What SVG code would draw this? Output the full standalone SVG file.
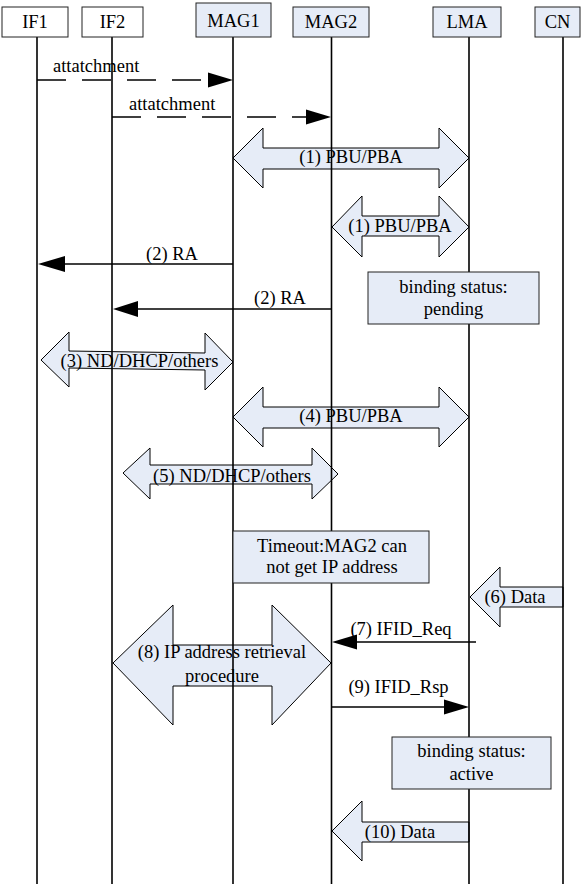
<svg xmlns="http://www.w3.org/2000/svg" width="583" height="886" viewBox="0 0 583 886">
<style>
text{font-family:"Liberation Serif","Times New Roman",serif;font-size:18.5px;fill:#000}
.c{text-anchor:middle}
.life{stroke:#000;stroke-width:1.6;fill:none}
.hdr{stroke:#222;stroke-width:1;fill:#fff}
.hdrb{stroke:#222;stroke-width:1;fill:#e6ecf7}
.blk{stroke:#000;stroke-width:1;fill:#e6ecf7}
.note{stroke:#222;stroke-width:1;fill:#e6ecf7}
.msg{stroke:#000;stroke-width:1.6;fill:none}
.dash{stroke:#000;stroke-width:1.6;fill:none;stroke-dasharray:29 16}
.head{fill:#000;stroke:none}
</style>
<g id="connectors">
<!-- block arrows -->
<path class="blk" d="M233,158 L263,128 L263,148 L439,148 L439,128 L469,158 L439,188 L439,169 L263,169 L263,188 Z"/>
<path class="blk" d="M332,227 L362,196 L362,216 L439,216 L439,196 L469,227 L439,257 L439,236 L362,236 L362,257 Z"/>
<path class="blk" d="M41,360 L69,332 L69,351 L205,353 L205,333 L233,362 L205,390 L205,370 L69,368 L69,387 Z"/>
<path class="blk" d="M233,417 L263,387 L263,407 L439,407 L439,387 L469,417 L439,447 L439,428 L263,428 L263,447 Z"/>
<path class="blk" d="M123,473 L150,448 L150,465 L312,465 L312,448 L338,474 L312,499 L312,484 L150,484 L150,499 Z"/>
<path class="blk" d="M470,597 L500,567 L500,587 L563,587 L563,607 L500,607 L500,627 Z"/>
<path class="blk" d="M113,663 L173,605 L173,645 L272,645 L272,605 L331,663 L272,725 L272,686 L173,686 L173,725 Z"/>
<path class="blk" d="M332,831 L362,801 L362,822 L469,822 L469,842 L362,842 L362,861 Z"/>
</g>
<g id="lifelines">
<line class="life" x1="37" y1="37" x2="37" y2="884"/>
<line class="life" x1="112" y1="37" x2="112" y2="884"/>
<line class="life" x1="233" y1="37" x2="233" y2="884"/>
<line class="life" x1="331.5" y1="37" x2="331.5" y2="884"/>
<line class="life" x1="469" y1="37" x2="469" y2="884"/>
<line class="life" x1="563" y1="37" x2="563" y2="884"/>
</g>
<g id="messages">
<line class="dash" x1="37" y1="80" x2="210" y2="80"/>
<polygon class="head" points="233,80 208,72.5 208,87.5"/>
<line class="dash" x1="112" y1="117" x2="309" y2="117"/>
<polygon class="head" points="331,117 306,109.5 306,124.5"/>
<line class="msg" x1="233" y1="264" x2="60" y2="264"/>
<polygon class="head" points="38,264 65,256 65,272"/>
<line class="msg" x1="331" y1="309" x2="135" y2="309"/>
<polygon class="head" points="113,309 138,301 138,317"/>
<line class="msg" x1="476" y1="642" x2="352" y2="642"/>
<polygon class="head" points="332,642 357,634.5 357,649.5"/>
<line class="msg" x1="331" y1="707" x2="448" y2="707"/>
<polygon class="head" points="469,707 444,699.5 444,714.5"/>
</g>
<g id="IF1"><rect class="hdr" x="2" y="7" width="66" height="30"/><text class="c" x="35" y="28">IF1</text></g>
<g id="IF2"><rect class="hdr" x="82" y="7" width="61" height="30"/><text class="c" x="112.5" y="28">IF2</text></g>
<g id="MAG1"><rect class="hdrb" x="196" y="3" width="75" height="34"/><text class="c" x="233.5" y="27">MAG1</text></g>
<g id="MAG2"><rect class="hdrb" x="293" y="7" width="76" height="30"/><text class="c" x="331" y="28">MAG2</text></g>
<g id="LMA"><rect class="hdrb" x="433" y="7" width="68" height="30"/><text class="c" x="467" y="28">LMA</text></g>
<g id="CN"><rect class="hdrb" x="535" y="7" width="45" height="30"/><text class="c" x="557.5" y="28">CN</text></g>
<g id="pending"><rect class="note" x="368" y="272" width="171" height="52"/><text class="c" x="453.5" y="293">binding status:</text><text class="c" x="453.5" y="315">pending</text></g>
<g id="timeout"><rect class="note" x="233" y="531" width="196" height="52"/><text class="c" x="332" y="552">Timeout:MAG2 can</text><text class="c" x="332" y="573">not get IP address</text></g>
<g id="active"><rect class="note" x="392" y="737" width="159" height="52"/><text class="c" x="471.5" y="757">binding status:</text><text class="c" x="471.5" y="780">active</text></g>
<g id="labels">
<text x="53" y="72">attatchment</text>
<text x="129" y="110">attatchment</text>
<text class="c" x="351" y="163">(1) PBU/PBA</text>
<text class="c" x="400" y="232">(1) PBU/PBA</text>
<text class="c" x="172" y="260">(2) RA</text>
<text class="c" x="280" y="304">(2) RA</text>
<text class="c" x="139.5" y="367">(3) ND/DHCP/others</text>
<text class="c" x="351" y="422">(4) PBU/PBA</text>
<text class="c" x="232" y="482">(5) ND/DHCP/others</text>
<text class="c" x="515" y="603">(6) Data</text>
<text class="c" x="401" y="635">(7) IFID_Req</text>
<text class="c" x="222" y="658">(8) IP address retrieval</text>
<text class="c" x="222" y="682">procedure</text>
<text class="c" x="398.5" y="693">(9) IFID_Rsp</text>
<text class="c" x="400" y="838">(10) Data</text>
</g>
</svg>
